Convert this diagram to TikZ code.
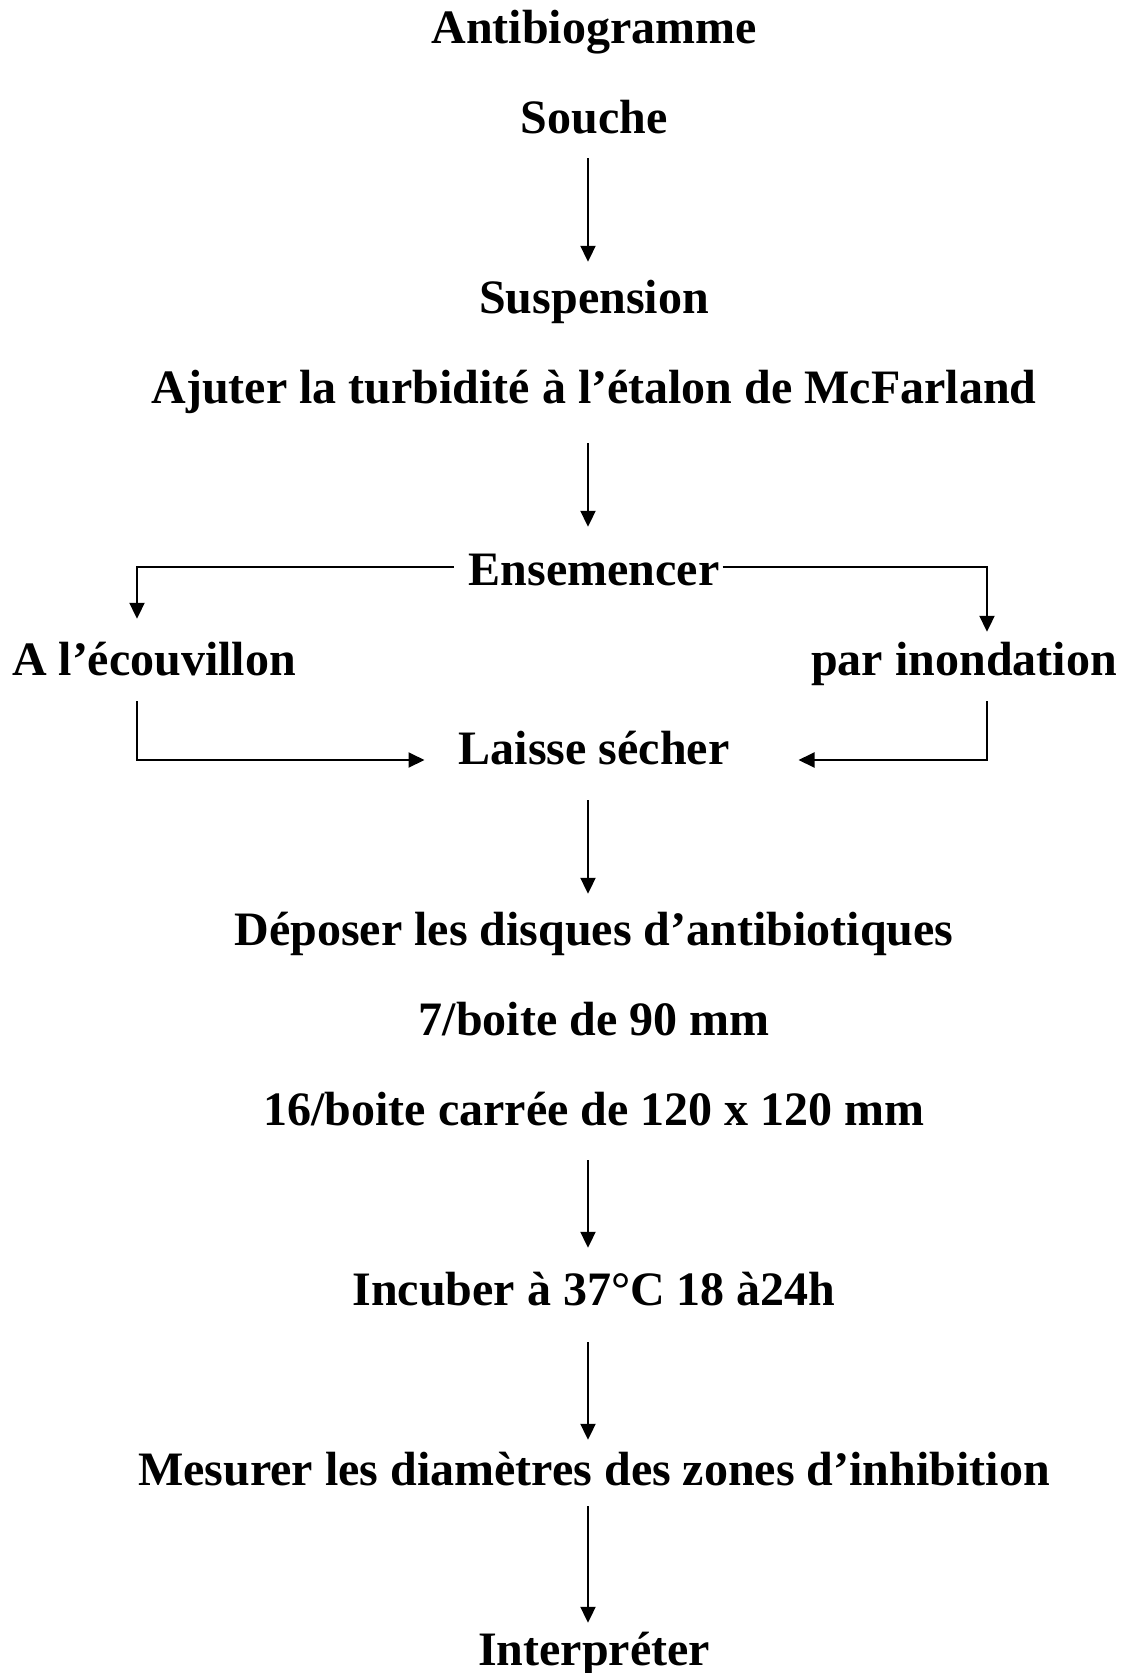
\documentclass[tikz,border=0pt]{standalone}
\usepackage{fontspec}
\setmainfont{Liberation Serif}
\usetikzlibrary{arrows.meta}
\begin{document}
\begin{tikzpicture}[x=1pt,y=-1pt,
  lbl/.style={font=\fontsize{48}{56}\selectfont\bfseries, inner sep=0pt, text height=33pt, text depth=11pt, anchor=base},
  arr/.style={line width=2pt, -{Triangle[length=16pt,width=15pt]}}]
\useasboundingbox (0,0) rectangle (1121,1673);
\node[lbl] (title) at (594,43) {Antibiogramme};
\node[lbl] (souche) at (594,133) {Souche};
\node[lbl] (susp) at (594,313) {Suspension};
\node[lbl] (ajust) at (594,403) {Ajuter la turbidité à l’étalon de McFarland};
\node[lbl] (ens) at (594,585) {Ensemencer};
\node[lbl] (ecou) at (154,675) {A l’écouvillon};
\node[lbl] (inond) at (964,675) {par inondation};
\node[lbl] (laisse) at (594,764) {Laisse sécher};
\node[lbl] (depo) at (594,945) {Déposer les disques d’antibiotiques};
\node[lbl] (b7) at (594,1035) {7/boite de 90 mm};
\node[lbl] (b16) at (594,1125) {16/boite carrée de 120 x 120 mm};
\node[lbl] (incub) at (594,1305) {Incuber à 37°C 18 à24h};
\node[lbl] (mesur) at (594,1485) {Mesurer les diamètres des zones d’inhibition};
\node[lbl] (interp) at (594,1665) {Interpréter};

\draw[arr, shorten <=14pt, shorten >=18pt] ([xshift=-6pt]souche.south) -- ([xshift=-6pt]susp.north);
\draw[arr, shorten <=29pt, shorten >=25pt] ([xshift=-6pt]ajust.south) -- ([xshift=-6pt]ens.north);
\draw[arr, shorten <=25pt, shorten >=18pt] ([xshift=-6pt]laisse.south) -- ([xshift=-6pt]depo.north);
\draw[arr, shorten <=24pt, shorten >=24pt] ([xshift=-6pt]b16.south) -- ([xshift=-6pt]incub.north);
\draw[arr, shorten <=26pt, shorten >=12pt] ([xshift=-6pt]incub.south) -- ([xshift=-6pt]mesur.north);
\draw[arr, shorten <=10pt, shorten >=9pt] ([xshift=-6pt]mesur.south) -- ([xshift=-6pt]interp.north);

\draw[arr] ([xshift=-15pt,yshift=7pt]ens.west) -| ([xshift=-17pt,yshift=23pt]ecou.north);
\draw[arr] ([xshift=3pt,yshift=7pt]ens.east) -| ([xshift=23pt,yshift=10pt]inond.north);
\draw[arr] ([xshift=-17pt,yshift=-15pt]ecou.south) |- ([xshift=-34pt,yshift=-7pt]laisse.west);
\draw[arr] ([xshift=23pt,yshift=-15pt]inond.south) |- ([xshift=69pt,yshift=-7pt]laisse.east);
\end{tikzpicture}
\end{document}
